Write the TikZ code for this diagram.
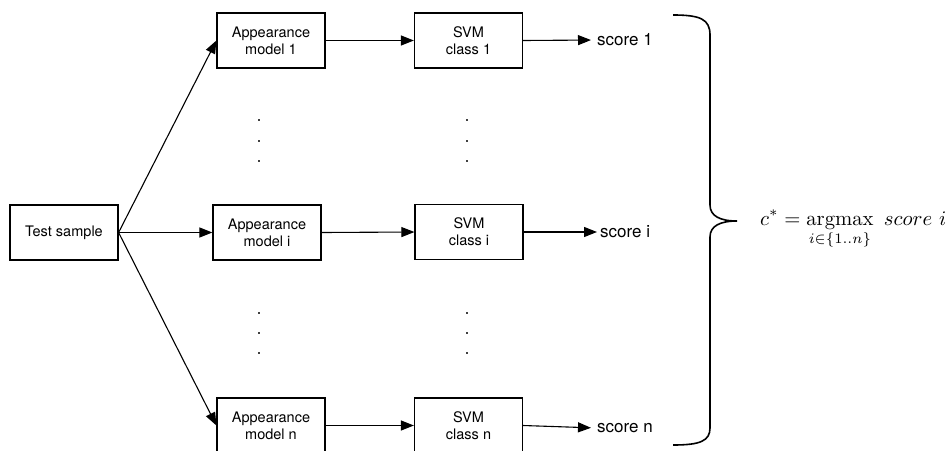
\documentclass[tikz,border=0pt]{standalone}
\usepackage{amsmath}
\usepackage{graphicx}
\usepackage{fontspec}
\newfontfamily\helv{TeX Gyre Heros}
\usetikzlibrary{arrows.meta}
\begin{document}
\begin{tikzpicture}[x=1pt,y=-1pt,
  box/.style={draw, line width=1.2pt, minimum width=108pt, minimum height=55pt, inner sep=0pt,
    align=center, font=\helv\fontsize{14.5}{17}\selectfont},
  lbl/.style={anchor=west, inner sep=0pt, font=\helv\fontsize{17}{20}\selectfont},
  arr/.style={line width=1.1pt, -{Triangle[length=13pt,width=10pt]}},
  dotm/.style={fill=black!75, draw=none, minimum size=2.4pt, inner sep=0pt, shape=rectangle}]
\useasboundingbox (0,0) rectangle (949,450);
\node[box] (ts) at (64,232.5) {Test sample};
\node[box] (m1) at (271,40.5) {Appearance\\model 1};
\node[box] (mi) at (267,232.5) {Appearance\\model i};
\node[box] (mn) at (271,425.5) {Appearance\\model n};
\node[box] (s1) at (468.5,40.5) {SVM\\class 1};
\node[box] (si) at (469,232) {SVM\\class i};
\node[box] (sn) at (468.5,425.5) {SVM\\class n};
\node[lbl] (c1) at (597,40) {score 1};
\node[lbl] (ci) at (600,232) {score i};
\node[lbl] (cn) at (597,428) {score n};
\draw[arr] (ts.east) -- (m1.west);
\draw[arr] (ts.east) -- (mi.west);
\draw[arr] (ts.east) -- (mn.west);
\draw[arr] (m1.east) -- (s1.west);
\draw[arr] (mi.east) -- (si.west);
\draw[arr] (mn.east) -- (sn.west);
\draw[arr, shorten >=6pt] (s1.east) -- (c1.west);
\draw[arr, shorten >=3pt] (si.east) -- (ci.west);
\draw[arr, shorten >=6pt] (sn.east) -- (cn.west);
\foreach \yy in {120,141,161,313,333,353}{
  \node[dotm] at (259,\yy) {};
  \node[dotm] at (467,\yy) {};
}
\draw[line width=1.6pt] (673,15) .. controls (700,15) and (710,19) .. (710,35)
  -- (710,205) .. controls (710,216) and (720,221) .. (737,221)
  .. controls (720,221) and (710,226) .. (710,237)
  -- (710,428) .. controls (710,441) and (700,445) .. (673,445);
\node[anchor=base west, inner sep=0pt] (f) at (760,225)
  {\scalebox{2.07}{$\displaystyle c^* = \operatorname*{argmax}_{i\in\{1..n\}}\ score\ i$}};
\end{tikzpicture}
\end{document}
